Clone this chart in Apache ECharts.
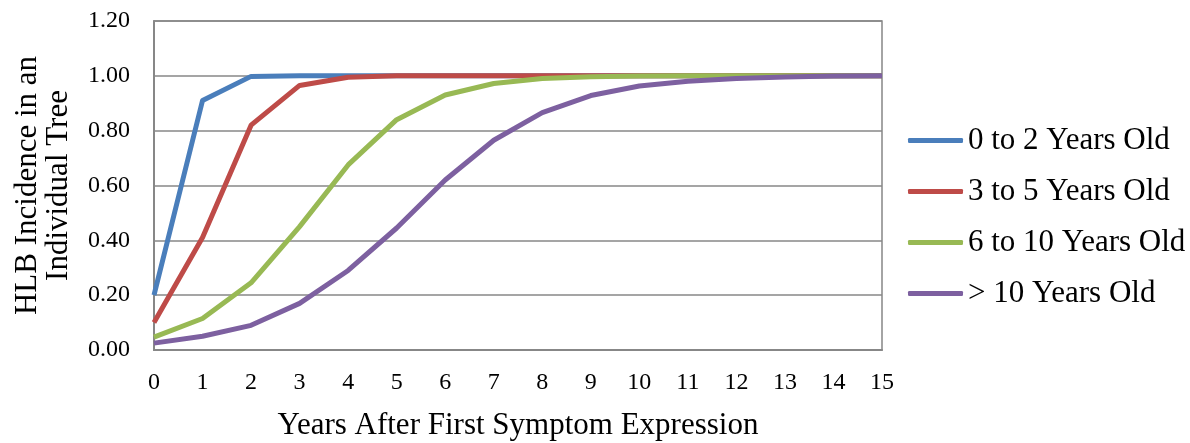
<!DOCTYPE html>
<html>
<head>
<meta charset="utf-8">
<script src="https://cdn.jsdelivr.net/npm/echarts@6/dist/echarts.min.js"></script>
<style>
  html, body { margin: 0; padding: 0; background: #fff; }
  #chart { width: 1190px; height: 443px; }
</style>
</head>
<body>
<div id="chart"></div>
<script>
// Years after first symptom expression
const years = [0, 1, 2, 3, 4, 5, 6, 7, 8, 9, 10, 11, 12, 13, 14, 15];

// Cumulative HLB incidence by tree age group
const age0to2  = [0.20, 0.91, 0.998, 1.00, 1.00, 1.00, 1.00, 1.00, 1.00, 1.00, 1.00, 1.00, 1.00, 1.00, 1.00, 1.00];
const age3to5  = [0.10, 0.41, 0.82, 0.965, 0.995, 1.00, 1.00, 1.00, 1.00, 1.00, 1.00, 1.00, 1.00, 1.00, 1.00, 1.00];
const age6to10 = [0.047, 0.115, 0.245, 0.45, 0.675, 0.84, 0.93, 0.972, 0.99, 0.997, 0.999, 1.00, 1.00, 1.00, 1.00, 1.00];
const ageOver10 = [0.025, 0.05, 0.09, 0.17, 0.29, 0.445, 0.62, 0.765, 0.866, 0.928, 0.963, 0.98, 0.99, 0.996, 0.999, 1.00];

const seriesNames = ['0 to 2 Years Old', '3 to 5 Years Old', '6 to 10 Years Old', '> 10 Years Old'];
const seriesData = [age0to2, age3to5, age6to10, ageOver10];
const seriesColors = ['#4A7EBB', '#BE4B48', '#98B954', '#7D60A0'];

const font = 'Liberation Serif, Times New Roman, serif';

const chart = echarts.init(document.getElementById('chart'));
chart.setOption({
  animation: false,
  backgroundColor: '#fff',
  grid: {
    left: 154, right: 308, top: 21, bottom: 93,
    containLabel: false, outerBoundsMode: 'none',
    show: true, borderColor: '#878787', borderWidth: 1.5, backgroundColor: 'transparent'
  },
  legend: {
    orient: 'vertical',
    left: 903, top: 120,
    itemWidth: 55, itemHeight: 5, itemGap: 20,
    icon: 'roundRect',
    textStyle: { fontFamily: font, fontSize: 31, lineHeight: 31, color: '#000' },
    data: seriesNames
  },
  xAxis: {
    type: 'value', min: 0, max: 15, interval: 1,
    name: 'Years After First Symptom Expression',
    nameLocation: 'middle', nameGap: 60,
    nameTextStyle: { fontFamily: font, fontSize: 31, color: '#000' },
    axisLine: { show: true, lineStyle: { color: '#878787', width: 2 } },
    axisTick: { show: false },
    splitLine: { show: false },
    axisLabel: { fontFamily: font, fontSize: 24, color: '#000', margin: 21, formatter: v => String(years[v]) }
  },
  yAxis: {
    type: 'value', min: 0, max: 1.2, interval: 0.2,
    name: 'HLB Incidence in an\nIndividual Tree',
    nameLocation: 'middle', nameGap: 80,
    nameTextStyle: { fontFamily: font, fontSize: 31, color: '#000', lineHeight: 31 },
    axisLine: { show: true, lineStyle: { color: '#878787', width: 2 } },
    axisTick: { show: false },
    splitLine: { show: true, lineStyle: { color: '#878787', width: 1.5 } },
    axisLabel: { fontFamily: font, fontSize: 24, color: '#000', margin: 24, formatter: v => v.toFixed(2) }
  },
  series: seriesNames.map((name, i) => ({
    name: name,
    type: 'line',
    data: years.map((y, j) => [y, seriesData[i][j]]),
    showSymbol: false,
    symbol: 'none',
    color: seriesColors[i],
    lineStyle: { width: 5, color: seriesColors[i], join: 'round' }
  }))
});
</script>
</body>
</html>
